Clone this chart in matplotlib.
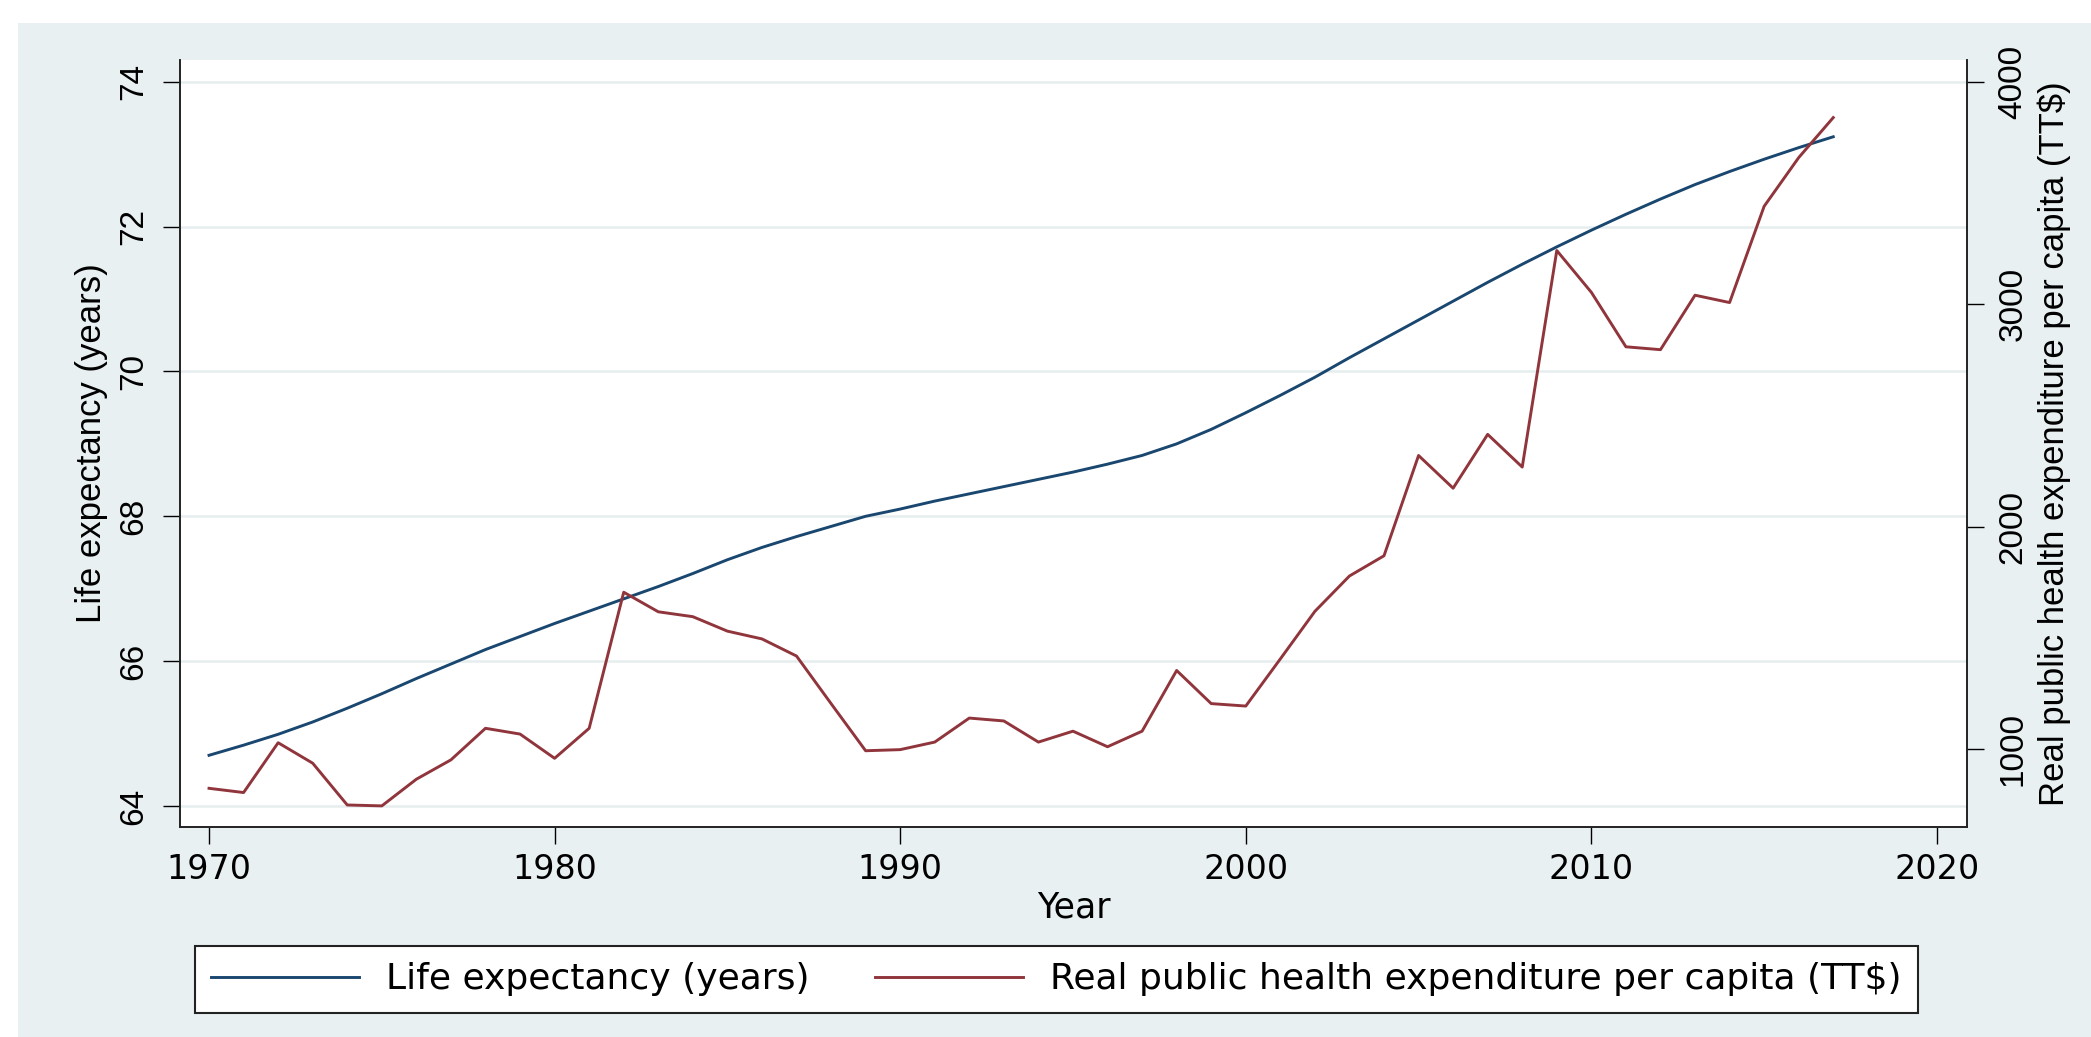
import numpy as np
import matplotlib.pyplot as plt
from matplotlib.patches import Rectangle

years = list(range(1970, 2018))

life_exp = [64.70, 64.84, 64.99, 65.16, 65.35, 65.55, 65.76, 65.96, 66.16, 66.34,
            66.52, 66.69, 66.86, 67.03, 67.21, 67.40, 67.57, 67.72, 67.86, 68.00,
            68.10, 68.21, 68.31, 68.41, 68.51, 68.61, 68.72, 68.84, 69.00, 69.20,
            69.43, 69.67, 69.92, 70.19, 70.45, 70.71, 70.97, 71.23, 71.48, 71.72,
            71.95, 72.17, 72.38, 72.58, 72.76, 72.93, 73.09, 73.24]

health_exp = [823, 804, 1028, 936, 748, 744, 864, 951, 1093, 1067,
              958, 1093, 1705, 1617, 1595, 1530, 1495, 1418, 1204, 992,
              997, 1031, 1139, 1126, 1031, 1080, 1010, 1080, 1353, 1204,
              1193, 1405, 1619, 1778, 1869, 2320, 2173, 2415, 2268, 3242,
              3054, 2809, 2796, 3041, 3008, 3441, 3660, 3840]

x_ticks = [1970, 1980, 1990, 2000, 2010, 2020]
left_ticks = [64, 66, 68, 70, 72, 74]
right_ticks = [1000, 2000, 3000, 4000]

navy = '#1a476f'
maroon = '#90353b'
bg = '#e9f0f2'

W, H = 2091, 1037
fig = plt.figure(figsize=(W / 100, H / 100), dpi=100)
fig.patch.set_facecolor('white')
fig.patches.append(Rectangle((18 / W, 0), 1, 1 - 23 / H, transform=fig.transFigure,
                             facecolor=bg, edgecolor='none', zorder=-10))

ax = fig.add_axes([180 / W, 1 - 827 / H, (1967 - 180) / W, (827 - 60) / H])
ax.set_facecolor('white')
ax2 = ax.twinx()

l1, = ax.plot(years, life_exp, color=navy, lw=2.1, label='Life expectancy (years)')
l2, = ax2.plot(years, health_exp, color=maroon, lw=2.1,
               label='Real public health expenditure per capita (TT$)')

ax.set_xlim(1969.16, 2020.87)
ax.set_ylim(63.71, 74.30)
ax2.set_ylim(649, 4099)

ax.set_xticks(x_ticks)
ax.set_yticks(left_ticks)
ax2.set_yticks(right_ticks)
ax.grid(axis='y', color='#e6edef', lw=1.8)
ax.set_axisbelow(True)

for a in (ax, ax2):
    a.spines['top'].set_visible(False)
    for s in ('left', 'right', 'bottom'):
        a.spines[s].set_color('#222222')
        a.spines[s].set_linewidth(1.2)

ax.tick_params(axis='x', length=12, width=1, pad=7, labelsize=24)
ax.tick_params(axis='y', length=12, width=1, pad=10, labelsize=24)
ax2.tick_params(axis='y', length=12, width=1, pad=10, labelsize=24)

for lab in ax.get_xticklabels():
    lab.set_fontfamily('DejaVu Sans')
for lab in ax.get_yticklabels():
    lab.set_fontfamily('Liberation Sans')
    lab.set_rotation(90)
    lab.set_va('center')
for lab in ax2.get_yticklabels():
    lab.set_fontfamily('Liberation Sans')
    lab.set_rotation(90)
    lab.set_va('center')

ax.set_xlabel('Year', fontsize=25, family='DejaVu Sans')
ax.xaxis.set_label_coords(0.5, (827 - 907) / 767)
ax.xaxis.label.set_va('center')

ax.set_ylabel('Life expectancy (years)', fontsize=25, family='Liberation Sans')
ax.yaxis.set_label_coords((92 - 180) / 1787, 0.5)
ax.yaxis.label.set_va('center')

ax2.set_ylabel('Real public health expenditure per capita (TT$)', fontsize=25,
               family='Liberation Sans')
ax2.yaxis.set_label_coords((2054 - 180) / 1787, 0.5)
ax2.yaxis.label.set_va('center')

leg = fig.legend(handles=[l1, l2], loc='upper left', bbox_to_anchor=(195 / W, 1 - 946 / H),
                 ncol=2, prop={'family': 'DejaVu Sans', 'size': 26},
                 handlelength=4.1, handletextpad=0.75, columnspacing=1.8,
                 borderpad=0.45, borderaxespad=0, fancybox=False, framealpha=1)
leg.get_frame().set_edgecolor('#222222')
leg.get_frame().set_linewidth(1.5)

fig.savefig('out.png', dpi=100, facecolor=fig.get_facecolor())
